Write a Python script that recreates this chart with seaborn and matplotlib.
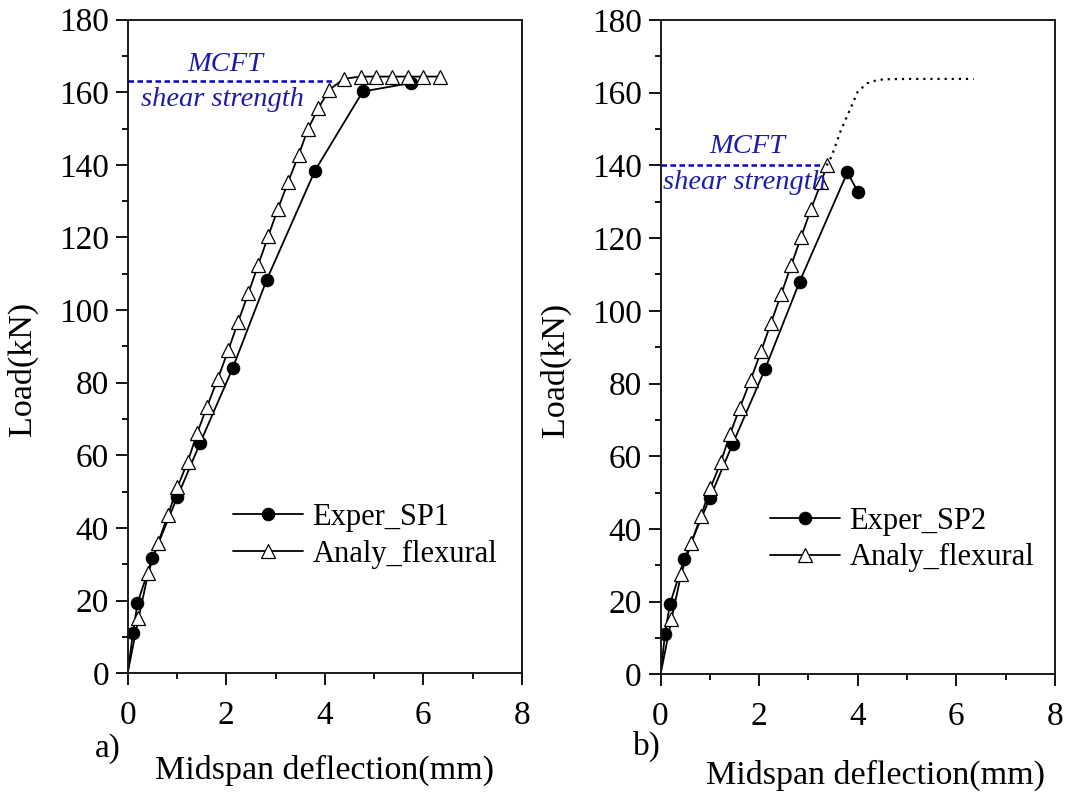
import matplotlib
matplotlib.use("Agg")
import matplotlib.pyplot as plt
from matplotlib.ticker import MultipleLocator
import numpy as np
import pandas as pd
import seaborn as sns

# --- data ---
# panel a) SP1
sp1_x = [0, 0.11, 0.20, 0.50, 1.01, 1.47, 2.13, 2.82, 3.80, 4.77, 5.74]
sp1_y = [0, 11.2, 19.3, 31.7, 48.6, 63.4, 84.0, 108.3, 138.4, 160.2, 162.5]
flex_a_x = [0, 0.22, 0.42, 0.62, 0.82, 1.01, 1.22, 1.41, 1.61, 1.83, 2.04, 2.24, 2.45, 2.65,
            2.85, 3.05, 3.26, 3.47, 3.66, 3.87, 4.09, 4.39, 4.73, 5.04, 5.36, 5.68, 6.00, 6.33]
flex_a_y = [0, 15.1, 27.7, 36.0, 43.6, 51.2, 58.3, 66.1, 73.4, 81.1, 88.9, 96.7, 104.7, 112.5,
            120.3, 127.9, 135.4, 142.8, 149.9, 155.6, 160.7, 163.7, 164.3, 164.3, 164.3, 164.3, 164.3, 164.3]
mcft_a = 163.2
mcft_a_end = 4.2

# panel b) SP2
sp2_x = [0, 0.09, 0.19, 0.48, 1.00, 1.46, 2.12, 2.82, 3.79, 4.00]
sp2_y = [0, 11.1, 19.3, 31.7, 48.5, 63.3, 84.0, 108.0, 138.1, 132.8]
flex_b_x = flex_a_x[:17] + [3.37]
flex_b_y = flex_a_y[:17] + [140.0]
cont_b_x = [3.37, 3.47, 3.65, 3.84, 4.00, 4.19, 4.35, 4.52, 5.00, 6.35]
cont_b_y = [140.0, 142.5, 149.4, 155.3, 160.3, 162.6, 163.3, 163.7, 163.8, 163.8]
mcft_b = 140.0
mcft_b_end = 3.27

sns.set_style("ticks")
plt.rcParams["font.family"] = ["Liberation Serif", "DejaVu Serif"]
plt.rcParams.update({"text.color": "black", "axes.labelcolor": "black",
                     "xtick.color": "black", "ytick.color": "black"})

fig = plt.figure(figsize=(10.68, 7.92), dpi=100)
ax_a = fig.add_axes([0.1195, 0.1499, 0.3693, 0.8254])
ax_b = fig.add_axes([0.6185, 0.1486, 0.3693, 0.8261])

blue_line = "#0000c8"
blue_text = "#1c1ca8"


def draw_panel(ax, ex_x, ex_y, ex_label, fl_x, fl_y, mcft, mcft_end, txt_x, txt_y):
    sns.lineplot(x=ex_x, y=ex_y, ax=ax, sort=False, estimator=None, color="black",
                 lw=1.3, marker="o", markersize=9, markerfacecolor="black",
                 markeredgecolor="black", markevery=list(range(1, len(ex_x))),
                 label=ex_label)
    sns.lineplot(x=fl_x, y=fl_y, ax=ax, sort=False, estimator=None, color="black",
                 lw=1.3, marker="^", markersize=10.5, markerfacecolor="white",
                 markeredgecolor="black", markeredgewidth=0.9,
                 markevery=list(range(1, len(fl_x))), label="Analy_flexural")
    sns.lineplot(x=[0, mcft_end], y=[mcft, mcft], ax=ax, color=blue_line, lw=1.8,
                 linestyle=(0, (2.2, 1.4)), legend=False)
    ax.text(txt_x, txt_y[0], "MCFT", color=blue_text, fontsize=20.5, style="italic",
            ha="center", va="center")
    ax.text(txt_x - 0.05, txt_y[1], "shear strength", color=blue_text, fontsize=20.5,
            style="italic", ha="center", va="center")

    ax.set_xlim(0, 8)
    ax.set_ylim(0, 180)
    ax.xaxis.set_major_locator(MultipleLocator(2))
    ax.xaxis.set_minor_locator(MultipleLocator(1))
    ax.yaxis.set_major_locator(MultipleLocator(20))
    ax.yaxis.set_minor_locator(MultipleLocator(10))
    ax.tick_params(which="major", direction="out", length=8.5, width=1.3,
                   labelsize=24, pad=5, top=False, right=False)
    ax.tick_params(axis="x", which="major", pad=11)
    ax.tick_params(which="minor", direction="out", length=4.5, width=1.3,
                   top=False, right=False)
    for sp in ax.spines.values():
        sp.set_visible(True)
        sp.set_linewidth(1.4)
        sp.set_color("#1a1a1a")
    ax.set_xlabel("Midspan deflection(mm)", fontsize=24.5)
    ax.set_ylabel("Load(kN)", fontsize=24.5)
    ax.yaxis.set_label_coords(-0.228, 0.465)


draw_panel(ax_a, sp1_x, sp1_y, "Exper_SP1", flex_a_x, flex_a_y, mcft_a, mcft_a_end,
           1.98, (167.6, 158.0))
draw_panel(ax_b, sp2_x, sp2_y, "Exper_SP2", flex_b_x, flex_b_y, mcft_b, mcft_b_end,
           1.75, (145.1, 135.2))

# analytical continuation beyond shear failure (dotted)
sns.lineplot(x=cont_b_x, y=cont_b_y, ax=ax_b, sort=False, estimator=None, color="black",
             lw=1.6, linestyle=(0, (1, 2.2)), legend=False)

ax_a.xaxis.set_label_coords(0.50, -0.125)
ax_b.xaxis.set_label_coords(0.544, -0.13)

for ax, anchor in [(ax_a, (0.267, 0.21)), (ax_b, (0.277, 0.206))]:
    ax.legend(loc="center left", bbox_to_anchor=anchor, frameon=False, fontsize=22,
              handlelength=2.3, handletextpad=0.3, labelspacing=0.25,
              borderpad=0, borderaxespad=0)

fig.text(95 / 1068, 1 - 749 / 792, "a)", fontsize=24, ha="left", va="center")
fig.text(633 / 1068, 1 - 746 / 792, "b)", fontsize=24, ha="left", va="center")

fig.savefig("out.png", dpi=100)
